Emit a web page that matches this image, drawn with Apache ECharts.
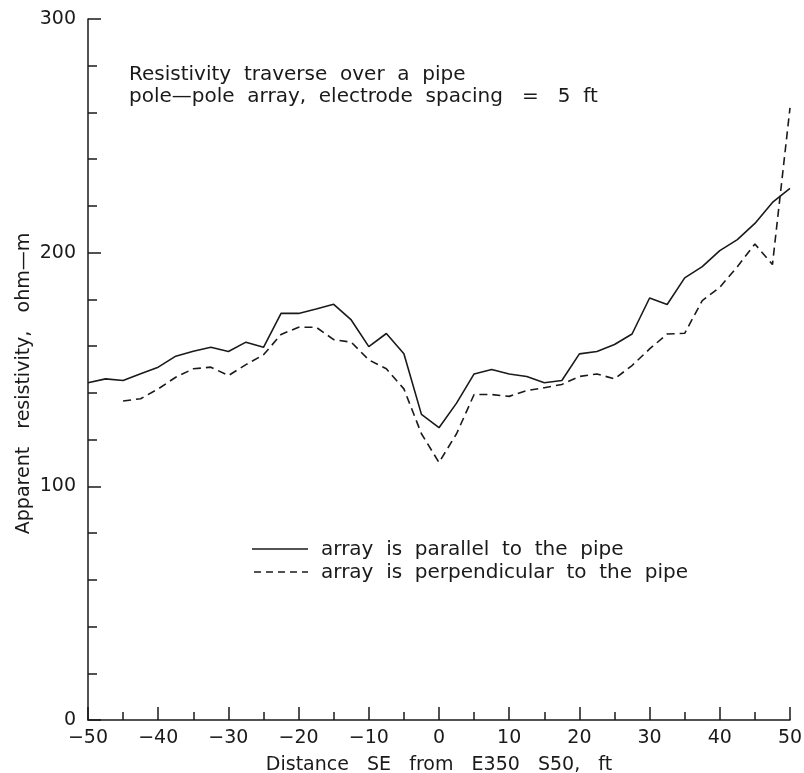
<!DOCTYPE html>
<html>
<head>
<meta charset="utf-8">
<script src="https://cdn.jsdelivr.net/npm/echarts@6/dist/echarts.min.js"></script>
<style>
  html, body { margin: 0; padding: 0; background: #fff; }
  #chart { width: 804px; height: 773px; }
</style>
</head>
<body>
<div id="chart"></div>
<script>
// distance along traverse, ft
var distance = [-50, -47.5, -45, -42.5, -40, -37.5, -35, -32.5, -30, -27.5,
    -25, -22.5, -20, -17.5, -15, -12.5, -10, -7.5, -5, -2.5,
    0, 2.5, 5, 7.5, 10, 12.5, 15, 17.5, 20, 22.5,
    25, 27.5, 30, 32.5, 35, 37.5, 40, 42.5, 45, 47.5, 50];
// apparent resistivity, ohm-m
var parallel = [144.3, 146, 145.3, 148.2, 151, 155.7, 157.8, 159.5, 157.7, 161.7,
    159.5, 174, 174, 175.9, 177.9, 171.2, 159.8, 165.4, 156.7, 130.8,
    125.1, 135.6, 148.1, 150, 148.1, 147, 144.3, 145.3, 156.7, 157.7,
    160.7, 165.2, 180.6, 177.8, 189.2, 194, 200.9, 205.6, 212.5, 221.5, 227.5];
var perpendicular = [null, null, 136.5, 137.5, 141.7, 146.7, 150.3, 151, 147.4, 152.1,
    156.3, 165, 168.1, 168.1, 162.8, 161.7, 154.1, 150.3, 141.7, 122.5,
    110.2, 122.5, 139.3, 139.3, 138.5, 141, 142.2, 143.6, 147, 148.1,
    146, 151.7, 158.8, 165.2, 165.5, 179.5, 185.2, 194, 203.7, 194.9, 262];

function pairs(vals) {
    return distance.map(function (d, i) { return [d, vals[i]]; });
}

var ink = '#1a1a1a';
var font = 'DejaVu Sans';
var noteFont = '20px "DejaVu Sans"';

var chart = echarts.init(document.getElementById('chart'));
var option = {
    animation: false,
    grid: { left: 88, right: 14, top: 19, bottom: 53, outerBoundsMode: 'none' },
    xAxis: {
        type: 'value',
        min: -50, max: 50, interval: 10,
        name: 'Distance   SE   from   E350   S50,   ft',
        nameLocation: 'middle',
        nameGap: 36,
        nameTextStyle: { color: ink, fontFamily: font, fontSize: 19 },
        axisLine: { onZero: false, lineStyle: { color: ink, width: 1.5 } },
        axisTick: { inside: true, length: 13, lineStyle: { color: ink, width: 1.5 } },
        minorTick: { show: true, splitNumber: 2, length: 8, lineStyle: { color: ink, width: 1.5 } },
        axisLabel: {
            color: ink, fontFamily: font, fontSize: 19, margin: 9,
            formatter: function (v) { return v < 0 ? '\u2212' + (-v) : '' + v; }
        },
        splitLine: { show: false }
    },
    yAxis: {
        type: 'value',
        min: 0, max: 300, interval: 100,
        name: 'Apparent   resistivity,   ohm\u2014m',
        nameLocation: 'middle',
        nameGap: 54,
        nameMoveOverlap: false,
        nameTextStyle: { color: ink, fontFamily: font, fontSize: 19, padding: [0, 28, 0, 0] },
        axisLine: { show: true, onZero: false, lineStyle: { color: ink, width: 1.5 } },
        axisTick: { show: true, inside: true, length: 13, lineStyle: { color: ink, width: 1.5 } },
        minorTick: { show: true, splitNumber: 5, length: 9, lineStyle: { color: ink, width: 1.5 } },
        axisLabel: { color: ink, fontFamily: font, fontSize: 19, margin: 12 },
        splitLine: { show: false }
    },
    series: [
        {
            name: 'array is parallel to the pipe',
            type: 'line',
            data: pairs(parallel),
            symbol: 'none',
            lineStyle: { color: ink, width: 1.6 }
        },
        {
            name: 'array is perpendicular to the pipe',
            type: 'line',
            data: pairs(perpendicular),
            symbol: 'none',
            connectNulls: false,
            lineStyle: { color: ink, width: 1.6, type: [8, 5] }
        }
    ],
    graphic: [
        {
            type: 'text', left: 129, top: 65,
            style: { text: 'Resistivity  traverse  over  a  pipe', fill: ink, font: noteFont }
        },
        {
            type: 'text', left: 129, top: 87,
            style: { text: 'pole\u2014pole  array,  electrode  spacing   =   5  ft', fill: ink, font: noteFont }
        },
        {
            type: 'line', shape: { x1: 252, y1: 549, x2: 308, y2: 549 },
            style: { stroke: ink, lineWidth: 1.6 }
        },
        {
            type: 'text', left: 321, top: 540,
            style: { text: 'array  is  parallel  to  the  pipe', fill: ink, font: noteFont }
        },
        {
            type: 'line', shape: { x1: 254, y1: 572, x2: 308, y2: 572 },
            style: { stroke: ink, lineWidth: 1.6, lineDash: [7, 5] }
        },
        {
            type: 'text', left: 321, top: 563,
            style: { text: 'array  is  perpendicular  to  the  pipe', fill: ink, font: noteFont }
        }
    ]
};
chart.setOption(option);
</script>
</body>
</html>
